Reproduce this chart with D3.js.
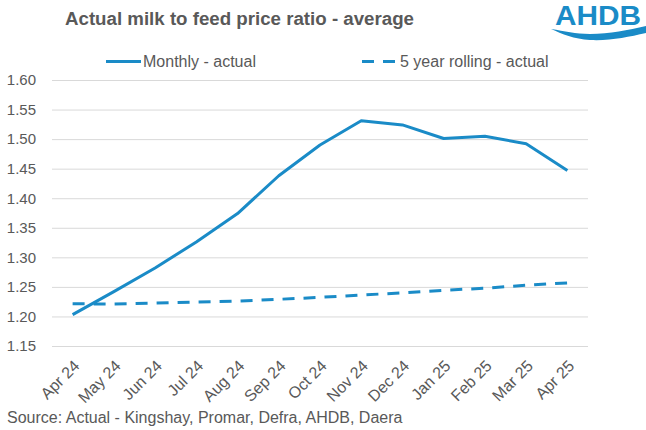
<!DOCTYPE html>
<html>
<head>
<meta charset="utf-8">
<script src="https://cdn.jsdelivr.net/npm/d3@7"></script>
<style>
    body { margin: 0; background: #fff; }
    svg { display: block; font-family: "Liberation Sans", Arial, sans-serif; }
</style>
</head>
<body>
<div id="chart"></div>
<script>
// chart data
const months = ["Apr 24", "May 24", "Jun 24", "Jul 24", "Aug 24", "Sep 24", "Oct 24",
    "Nov 24", "Dec 24", "Jan 25", "Feb 25", "Mar 25", "Apr 25"];
const monthlyActual = [1.203, 1.242, 1.282, 1.326, 1.374, 1.438, 1.490,
    1.531, 1.524, 1.501, 1.505, 1.492, 1.447];
const rollingActual = [1.2215, 1.221, 1.2225, 1.2243, 1.226, 1.229, 1.2323,
    1.2363, 1.2398, 1.2443, 1.2477, 1.2528, 1.2568];
const yTicks = [1.15, 1.20, 1.25, 1.30, 1.35, 1.40, 1.45, 1.50, 1.55, 1.60];

const width = 646;
const height = 430;
const blue = "#1a8bc7";
const grey = "#595959";

const svg = d3.select("#chart").append("svg")
    .attr("width", width)
    .attr("height", height);

const x = d3.scalePoint()
    .domain(months)
    .range([52, 588])
    .padding(0.5);

const y = d3.scaleLinear()
    .domain([1.15, 1.60])
    .range([346, 80]);

// title
svg.append("text")
    .attr("x", 65)
    .attr("y", 25)
    .style("font-size", "18.7px")
    .style("font-weight", "bold")
    .style("fill", grey)
    .text("Actual milk to feed price ratio - average");

// logo
const logo = svg.append("g");
logo.append("text")
    .attr("x", 555)
    .attr("y", 25)
    .attr("textLength", 86)
    .attr("lengthAdjust", "spacingAndGlyphs")
    .style("font-size", "28px")
    .style("font-weight", "bold")
    .style("fill", blue)
    .text("AHDB");
logo.append("path")
    .attr("d", "M551,29 C565,31 575,34 590,34 C610,34 628,30 646,26 L646,33 C628,37 610,41 590,40 C574,39 562,34 551,29 Z")
    .attr("fill", blue);

// gridlines + y axis
const yAxis = svg.append("g")
    .attr("transform", "translate(52,0)")
    .call(d3.axisLeft(y).tickValues(yTicks).tickFormat(d3.format(".2f"))
        .tickSize(-536).tickPadding(16));
yAxis.select(".domain").remove();
yAxis.selectAll(".tick line").attr("stroke", "#d9d9d9").attr("stroke-width", 1);
yAxis.selectAll(".tick text")
    .style("font-size", "15px")
    .style("font-family", "Liberation Sans, Arial, sans-serif")
    .style("fill", grey);

// x labels (rotated)
svg.append("g")
    .selectAll("text")
    .data(months)
    .enter().append("text")
    .attr("transform", d => `translate(${x(d)},359) rotate(-45)`)
    .attr("dy", "0.7em")
    .attr("text-anchor", "end")
    .style("font-size", "16px")
    .style("fill", grey)
    .text(d => d);

// lines
const line = d3.line()
    .x((d, i) => x(months[i]))
    .y(d => y(d));

svg.append("path")
    .datum(rollingActual)
    .attr("d", line)
    .attr("fill", "none")
    .attr("stroke", blue)
    .attr("stroke-width", 3)
    .attr("stroke-dasharray", "12,9");

svg.append("path")
    .datum(monthlyActual)
    .attr("d", line)
    .attr("fill", "none")
    .attr("stroke", blue)
    .attr("stroke-width", 3)
    .attr("stroke-linejoin", "round");

// legend
const legend = svg.append("g");
legend.append("line")
    .attr("x1", 106).attr("x2", 141)
    .attr("y1", 61.5).attr("y2", 61.5)
    .attr("stroke", blue).attr("stroke-width", 3);
legend.append("text")
    .attr("x", 143).attr("y", 67)
    .style("font-size", "16px").style("fill", grey)
    .text("Monthly - actual");
legend.append("line")
    .attr("x1", 362).attr("x2", 395)
    .attr("y1", 61.5).attr("y2", 61.5)
    .attr("stroke", blue).attr("stroke-width", 3)
    .attr("stroke-dasharray", "12,9");
legend.append("text")
    .attr("x", 400).attr("y", 67)
    .style("font-size", "16px").style("fill", grey)
    .text("5 year rolling - actual");

// source note
svg.append("text")
    .attr("x", 7)
    .attr("y", 423)
    .style("font-size", "16px")
    .style("fill", grey)
    .text("Source: Actual - Kingshay, Promar, Defra, AHDB, Daera");
</script>
</body>
</html>
